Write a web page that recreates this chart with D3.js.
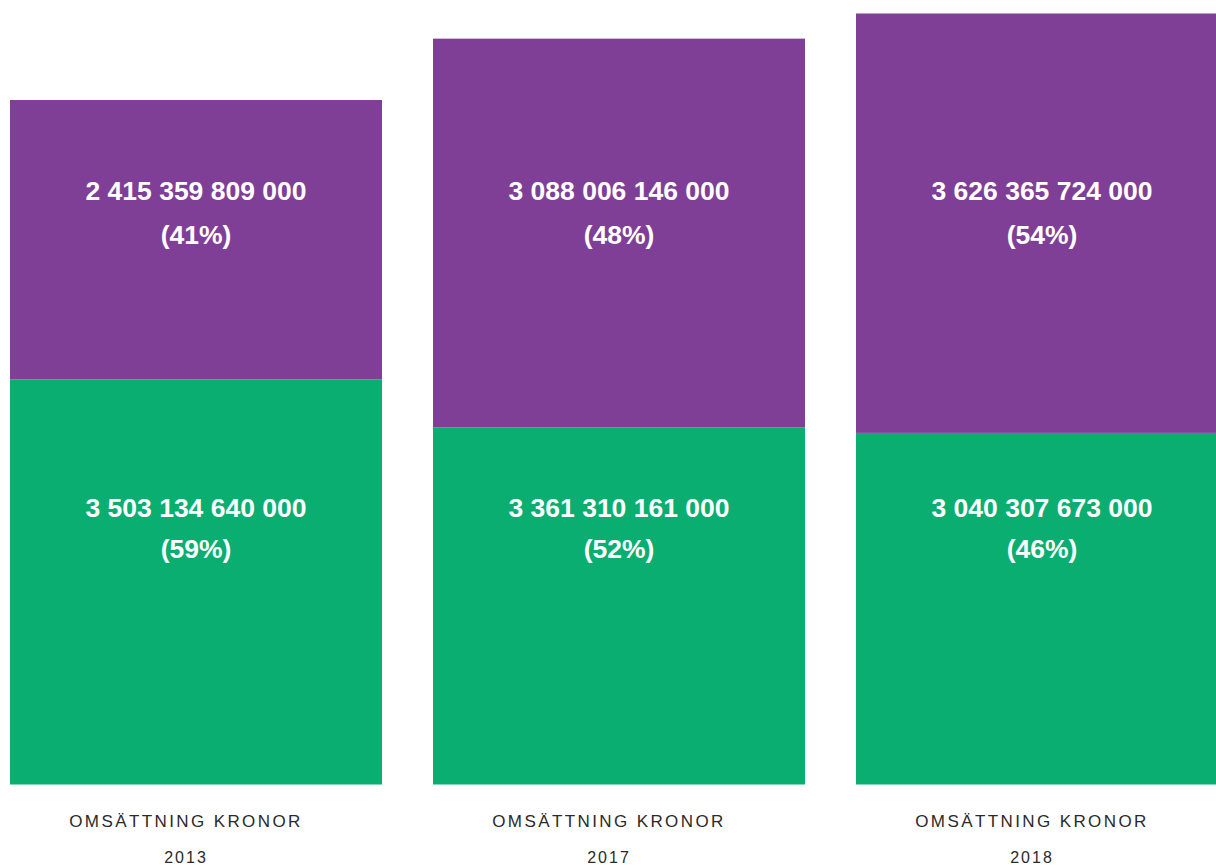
<!DOCTYPE html>
<html>
<head>
<meta charset="utf-8">
<script src="https://cdn.jsdelivr.net/npm/d3@7"></script>
<style>
  html, body { margin: 0; padding: 0; background: #fff; overflow: hidden; }
  svg { display: block; font-family: "Liberation Sans", Arial, sans-serif; }
</style>
</head>
<body>
<div id="chart"></div>
<script>
// omsättning per år, två delar
const years = ['2013', '2017', '2018'];
// segment heights as drawn in the picture (2017 segments appear swapped vs its labels)
const upperValues = [2415359809000, 3361310161000, 3626365724000]; // lila
const lowerValues = [3503134640000, 3088006146000, 3040307673000]; // grön
// texts printed in the segments
const upperLabels = [2415359809000, 3088006146000, 3626365724000];
const lowerLabels = [3503134640000, 3361310161000, 3040307673000];
const upperPct = [41, 48, 54];
const lowerPct = [59, 52, 46];
const categoryLabel = 'OMSÄTTNING KRONOR';

const width = 1216, height = 865;
const colors = { upper: '#7f3f97', lower: '#0aae71' };

const data = years.map((y, i) => ({
  year: y,
  lower: lowerValues[i],
  upper: upperValues[i],
  lowerLabel: lowerLabels[i],
  upperLabel: upperLabels[i],
  lowerPct: lowerPct[i],
  upperPct: upperPct[i]
}));

const svg = d3.select('#chart').append('svg')
    .attr('width', width).attr('height', height);

const x = d3.scaleBand()
    .domain(years)
    .range([10, 1228])
    .paddingInner(0.1206)
    .paddingOuter(0);

const y = d3.scaleLinear()
    .domain([0, d3.max(data, d => d.lower + d.upper)])
    .range([784.5, 13.5]);

const stack = d3.stack().keys(['lower', 'upper']);
const series = stack(data);

svg.append('g')
  .selectAll('g').data(series).join('g')
    .attr('fill', s => colors[s.key])
  .selectAll('rect').data(s => s).join('rect')
    .attr('x', d => x(d.data.year))
    .attr('width', x.bandwidth())
    .attr('y', d => y(d[1]))
    .attr('height', d => y(d[0]) - y(d[1]));

const fmt = v => d3.format(',.0f')(v).replace(/,/g, ' ');

// value labels sit at fixed heights in each segment
const labelRows = [
  { key: 'upperLabel', pct: 'upperPct', y1: 200, y2: 244 },
  { key: 'lowerLabel', pct: 'lowerPct', y1: 517, y2: 558 }
];

const lbl = svg.append('g')
    .attr('fill', '#fff')
    .attr('font-weight', 'bold')
    .attr('font-size', 26.5)
    .attr('text-anchor', 'middle');

labelRows.forEach(r => {
  lbl.append('g').selectAll('text').data(data).join('text')
      .attr('x', d => x(d.year) + x.bandwidth() / 2)
      .attr('y', r.y1)
      .text(d => fmt(d[r.key]));
  lbl.append('g').selectAll('text').data(data).join('text')
      .attr('x', d => x(d.year) + x.bandwidth() / 2)
      .attr('y', r.y2)
      .text(d => '(' + d[r.pct] + '%)');
});

// category labels under bars
const cat = svg.append('g')
    .attr('fill', '#2a2a2a')
    .attr('text-anchor', 'middle');

cat.selectAll('text.cat').data(data).join('text')
    .attr('class', 'cat')
    .attr('x', d => x(d.year) + x.bandwidth() / 2 - 10)
    .attr('y', 826.5)
    .attr('font-size', 17)
    .attr('letter-spacing', '2.4px')
    .text(categoryLabel);

cat.selectAll('text.yr').data(data).join('text')
    .attr('class', 'yr')
    .attr('x', d => x(d.year) + x.bandwidth() / 2 - 10)
    .attr('y', 863)
    .attr('font-size', 16)
    .attr('letter-spacing', '2px')
    .text(d => d.year);
</script>
</body>
</html>
